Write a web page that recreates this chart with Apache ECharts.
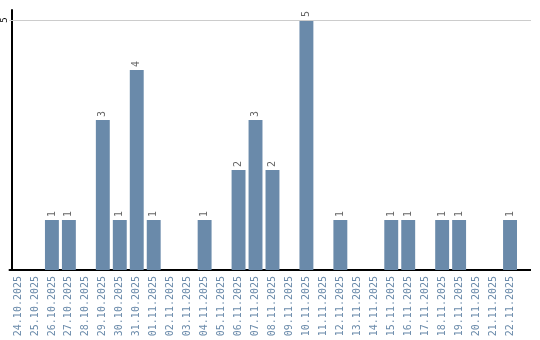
<!DOCTYPE html>
<html><head><meta charset="utf-8">
<script src="https://cdn.jsdelivr.net/npm/echarts@6/dist/echarts.min.js"></script>
<style>html,body{margin:0;padding:0;background:#fff}#c{width:540px;height:340px}</style>
</head><body><div id="c"></div>
<script>
const categories = ['24.10.2025','25.10.2025','26.10.2025','27.10.2025','28.10.2025','29.10.2025','30.10.2025','31.10.2025','01.11.2025','02.11.2025','03.11.2025','04.11.2025','05.11.2025','06.11.2025','07.11.2025','08.11.2025','09.11.2025','10.11.2025','11.11.2025','12.11.2025','13.11.2025','14.11.2025','15.11.2025','16.11.2025','17.11.2025','18.11.2025','19.11.2025','20.11.2025','21.11.2025','22.11.2025'];
const values = [0,0,1,1,0,3,1,4,1,0,0,1,0,2,3,2,0,5,0,1,0,0,1,1,0,1,1,0,0,1];
const yTicks = [5];

const chart = echarts.init(document.getElementById('c'));
chart.setOption({
  animation: false,
  grid: {left: 8.5, right: 21.5, top: 10, bottom: 70},
  xAxis: {
    type: 'category', data: categories,
    axisLine: {lineStyle: {color: '#000', width: 2}},
    axisTick: {show: false},
    axisLabel: {rotate: 90, interval: 0, color: '#6a8aaa', fontFamily: 'DejaVu Sans Mono', fontSize: 10, margin: 6}
  },
  yAxis: {
    type: 'value', min: 0, max: 5.2, interval: 5, offset: -2.5,
    axisLine: {show: true, lineStyle: {color: '#000', width: 2}},
    axisTick: {show: false},
    axisLabel: {rotate: 90, color: '#000', fontFamily: 'DejaVu Sans Mono', fontSize: 9, margin: 3,
      formatter: v => yTicks.includes(v) ? String(v) : ''},
    splitLine: {show: false}
  },
  graphic: [{type: 'line', shape: {x1: 517, y1: 270, x2: 531, y2: 270}, style: {stroke: '#000', lineWidth: 2}},
            {type: 'line', shape: {x1: 517, y1: 20.5, x2: 531, y2: 20.5}, style: {stroke: '#ccc', lineWidth: 1}}],
  series: [{
    type: 'bar', data: values.map(v => v === 0 ? null : v),
    barCategoryGap: '18%',
    itemStyle: {color: '#6a8aaa'},
    label: {show: true, position: 'top', rotate: 90, align: 'left', verticalAlign: 'middle', distance: 3,
      color: '#666', fontFamily: 'DejaVu Sans Mono', fontSize: 10},
    markLine: {silent: true, symbol: 'none', label: {show: false},
      lineStyle: {color: '#ccc', type: 'solid', width: 1},
      data: yTicks.map(t => ({yAxis: t}))}
  }]
});
</script></body></html>
